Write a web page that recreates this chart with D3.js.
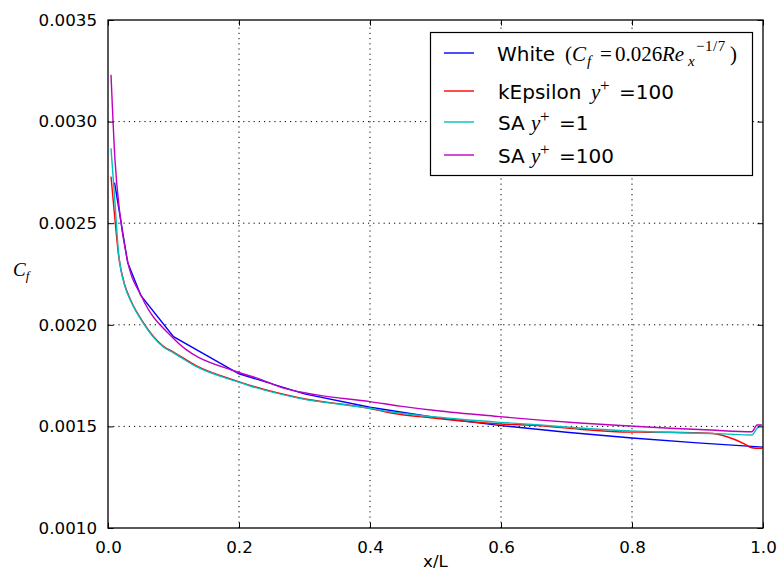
<!DOCTYPE html>
<html>
<head>
<meta charset="utf-8">
<script src="https://cdn.jsdelivr.net/npm/d3@7"></script>
<style>
  body { margin: 0; background: #fff; }
  text { font-family: "DejaVu Sans", sans-serif; }
  .math { font-family: "Liberation Serif", "DejaVu Serif", serif; }
</style>
</head>
<body>
<div id="chart"></div>
<script>
// chart size and plot area
const width = 782
const height = 574
const margin = { left: 108, right: 19, top: 20, bottom: 46 }

// White (Cf = 0.026 Re_x^-1/7)
const whiteX  = [0.01, 0.03, 0.05, 0.1, 0.2, 0.3, 0.4, 0.5, 0.6, 0.7, 0.8, 0.9, 1.0]
const whiteCf = [0.00270, 0.002307, 0.002145, 0.001942, 0.001759, 0.001660, 0.001594,
                 0.001544, 0.001504, 0.001471, 0.001443, 0.001419, 0.001398]

// kEpsilon y+=100
const kepsX  = [0.0046, 0.0107, 0.0157, 0.026, 0.034, 0.054, 0.084, 0.1, 0.135, 0.197, 0.217, 0.293,
                0.4, 0.43, 0.5, 0.598, 0.66, 0.72, 0.797, 0.858, 0.919, 0.945, 0.97, 0.983, 0.995, 0.999]
const kepsCf = [0.002729, 0.002516, 0.002353, 0.002192, 0.002126, 0.002011, 0.001896, 0.001866, 0.001798, 0.001723, 0.001702, 0.001640,
                0.001588, 0.001567, 0.001540, 0.001512, 0.001503, 0.001486, 0.001472, 0.001471, 0.001466, 0.001449, 0.001417, 0.001395, 0.001392, 0.001392]

// SA y+=1
const sa1X  = [0.0046, 0.0107, 0.0157, 0.026, 0.034, 0.054, 0.084, 0.1, 0.135, 0.197, 0.217, 0.293,
               0.4, 0.43, 0.5, 0.598, 0.66, 0.72, 0.797, 0.873, 0.94, 0.983, 0.991, 0.998]
const sa1Cf = [0.002869, 0.002600, 0.002368, 0.002188, 0.002122, 0.002007, 0.001892, 0.001862, 0.001794, 0.001720, 0.001699, 0.001638,
               0.001589, 0.001572, 0.001546, 0.001520, 0.001507, 0.001492, 0.001477, 0.001469, 0.001463, 0.001458, 0.001491, 0.001507]

// SA y+=100
const sa100X  = [0.0046, 0.0107, 0.018, 0.0285, 0.0515, 0.0997, 0.1965, 0.232, 0.268, 0.319,
                 0.4, 0.446, 0.5, 0.598, 0.66, 0.72, 0.797, 0.858, 0.92, 0.983, 0.991, 0.998]
const sa100Cf = [0.00323, 0.00281, 0.00255, 0.002335, 0.002138, 0.001934, 0.001769, 0.001733, 0.001688, 0.001655,
                 0.001622, 0.001600, 0.001578, 0.001548, 0.001531, 0.001517, 0.001502, 0.001491, 0.001482, 0.001474, 0.001507, 0.001507]

const xTicks = [0.0, 0.2, 0.4, 0.6, 0.8, 1.0]
const yTicks = [0.0010, 0.0015, 0.0020, 0.0025, 0.0030, 0.0035]

const series = [
  { name: "white", x: whiteX, y: whiteCf, color: "#0000ff", curve: d3.curveLinear },
  { name: "keps", x: kepsX, y: kepsCf, color: "#ff0000", curve: d3.curveMonotoneX },
  { name: "sa1", x: sa1X, y: sa1Cf, color: "#00bfbf", curve: d3.curveMonotoneX },
  { name: "sa100", x: sa100X, y: sa100Cf, color: "#bf00bf", curve: d3.curveMonotoneX }
]

var svg = d3.select("#chart")
  .append("svg")
  .attr("width", width)
  .attr("height", height)

var x = d3.scaleLinear()
  .domain([0, 1])
  .range([margin.left, width - margin.right])

var y = d3.scaleLinear()
  .domain([0.001, 0.0035])
  .range([height - margin.bottom, margin.top])

// grid (dotted)
var grid = svg.append("g")
grid.selectAll("line.gx")
  .data(xTicks.slice(1, -1))
  .enter().append("line")
    .attr("x1", d => x(d)).attr("x2", d => x(d))
    .attr("y1", y(0.001)).attr("y2", y(0.0035))
    .attr("stroke", "#000").attr("stroke-width", 1)
    .attr("stroke-dasharray", "1.2,4")
grid.selectAll("line.gy")
  .data(yTicks.slice(1, -1))
  .enter().append("line")
    .attr("y1", d => y(d)).attr("y2", d => y(d))
    .attr("x1", x(0)).attr("x2", x(1))
    .attr("stroke", "#000").attr("stroke-width", 1)
    .attr("stroke-dasharray", "1.2,4")

// curves
svg.append("clipPath").attr("id", "clip")
  .append("rect")
    .attr("x", x(0)).attr("y", y(0.0035))
    .attr("width", x(1) - x(0)).attr("height", y(0.001) - y(0.0035))

svg.append("g")
  .attr("clip-path", "url(#clip)")
  .selectAll("path")
  .data(series)
  .enter().append("path")
    .attr("d", s => d3.line().curve(s.curve).x(d => x(d[0])).y(d => y(d[1]))(d3.zip(s.x, s.y)))
    .attr("fill", "none")
    .attr("stroke", s => s.color)
    .attr("stroke-width", 1.4)

// axes (ticks inside, on all four sides)
var tickLen = -5.5
var fmtY = d3.format(".4f")
var fmtX = d3.format(".1f")

svg.append("g")
  .attr("transform", "translate(0," + y(0.001) + ")")
  .call(d3.axisBottom(x).tickValues(xTicks).tickFormat(fmtX).tickSizeInner(tickLen).tickSizeOuter(0).tickPadding(13))
svg.append("g")
  .attr("transform", "translate(0," + y(0.0035) + ")")
  .call(d3.axisTop(x).tickValues(xTicks).tickFormat("").tickSizeInner(tickLen).tickSizeOuter(0))
svg.append("g")
  .attr("transform", "translate(" + x(0) + ",0)")
  .call(d3.axisLeft(y).tickValues(yTicks).tickFormat(fmtY).tickSizeInner(tickLen).tickSizeOuter(0).tickPadding(11))
svg.append("g")
  .attr("transform", "translate(" + x(1) + ",0)")
  .call(d3.axisRight(y).tickValues(yTicks).tickFormat("").tickSizeInner(tickLen).tickSizeOuter(0))

svg.selectAll(".domain").remove()
svg.selectAll(".tick line").attr("stroke", "#000").attr("stroke-width", 1)
svg.selectAll(".tick text")
  .attr("fill", "#000")
  .style("font-family", "DejaVu Sans")
  .style("font-size", "16.7px")

// frame
svg.append("rect")
  .attr("x", x(0)).attr("y", y(0.0035))
  .attr("width", x(1) - x(0)).attr("height", y(0.001) - y(0.0035))
  .attr("fill", "none").attr("stroke", "#000").attr("stroke-width", 1.3)

// axis labels
svg.append("text")
  .attr("x", (x(0) + x(1)) / 2).attr("y", 567)
  .attr("text-anchor", "middle")
  .style("font-size", "16.7px")
  .text("x/L")

var yl = svg.append("text")
  .attr("class", "math")
  .attr("x", 13).attr("y", 276)
  .style("font-size", "19px")
  .style("font-style", "italic")
yl.append("tspan").text("C")
yl.append("tspan").attr("dy", 4).style("font-size", "13px").text("f")

// legend
var lg = svg.append("g")
lg.append("rect")
  .attr("x", 430.5).attr("y", 32.5)
  .attr("width", 322).attr("height", 143)
  .attr("fill", "#fff").attr("stroke", "#000").attr("stroke-width", 1.2)

var rowY = [53, 91, 122, 155]
lg.selectAll("line.key")
  .data(series)
  .enter().append("line")
    .attr("x1", 444).attr("x2", 474)
    .attr("y1", (s, i) => rowY[i]).attr("y2", (s, i) => rowY[i])
    .attr("stroke", s => s.color).attr("stroke-width", 1.4)

// text piece at an explicit x, with baseline shift
function piece(row, px, txt, opt) {
  var t = lg.append("text")
    .attr("x", px)
    .attr("y", rowY[row] + 8 + (opt.shift || 0))
    .style("font-size", (opt.size || 20) + "px")
    .text(txt)
  if (opt.math) t.attr("class", "math")
  if (opt.it) t.style("font-style", "italic")
  return t
}

piece(0, 497, "White", {})
piece(0, 565, "(", { math: 1, size: 21 })
piece(0, 572, "C", { math: 1, it: 1, size: 21 })
piece(0, 587, "f", { math: 1, it: 1, size: 15, shift: 5 })
piece(0, 600, "=", { math: 1, size: 21 })
piece(0, 615, "0.026", { math: 1, size: 21 })
piece(0, 662, "Re", { math: 1, it: 1, size: 21 })
piece(0, 688, "x", { math: 1, it: 1, size: 15, shift: 5 })
piece(0, 696, "\u22121/7", { math: 1, size: 15, shift: -10 }).style("letter-spacing", "0.5px")
piece(0, 730, ")", { math: 1, size: 21 })

function yplus(row, label, yx, value) {
  piece(row, 498, label, {})
  piece(row, yx, "y", { math: 1, it: 1, size: 21 })
  piece(row, yx + 9, "+", { math: 1, size: 17, shift: -8 })
  piece(row, yx + 28, "=" + value, {})
}
yplus(1, "kEpsilon", 591, "100")
yplus(2, "SA", 531, "1")
yplus(3, "SA", 531, "100")
</script>
</body>
</html>
